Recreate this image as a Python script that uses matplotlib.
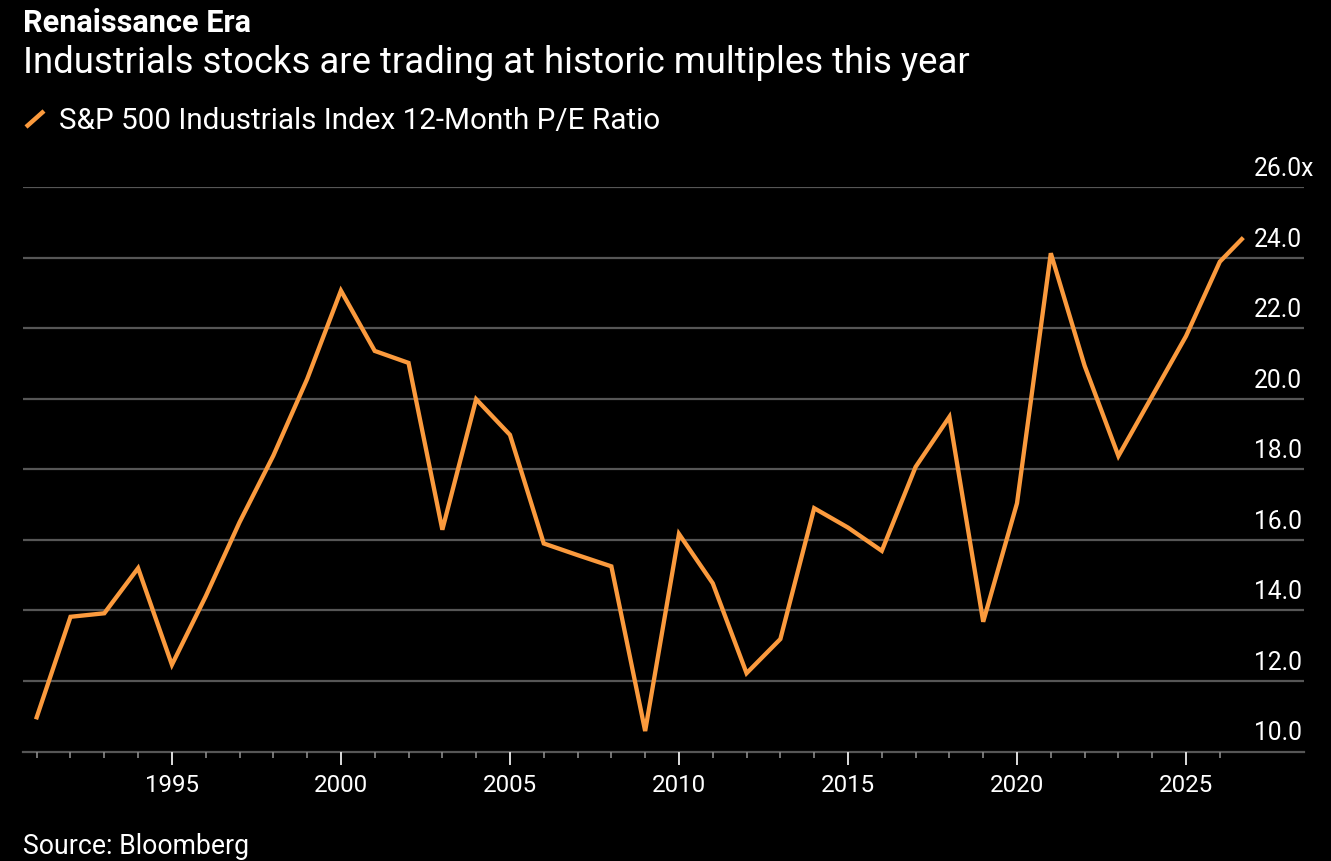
import matplotlib
matplotlib.use("Agg")
import matplotlib.pyplot as plt
from matplotlib.transforms import blended_transform_factory
from matplotlib.lines import Line2D

# ---------------- data ----------------
years = [1991, 1992, 1993, 1994, 1995, 1996, 1997, 1998, 1999, 2000,
         2001, 2002, 2003, 2004, 2005, 2006, 2007, 2008, 2009, 2010,
         2011, 2012, 2013, 2014, 2015, 2016, 2017, 2018, 2019, 2020,
         2021, 2022, 2023, 2024, 2025, 2026, 2026.65]
pe_ratio = [10.97, 13.82, 13.92, 15.20, 12.46, 14.40, 16.50, 18.39, 20.56, 23.07,
            21.36, 21.02, 16.29, 19.99, 18.98, 15.90, 15.57, 15.25, 10.58, 16.17,
            14.77, 12.22, 13.19, 16.90, 16.35, 15.69, 18.07, 19.49, 13.68, 17.04,
            24.13, 20.94, 18.38, 20.08, 21.78, 23.89, 24.53]
y_ticks = [10, 12, 14, 16, 18, 20, 22, 24, 26]
y_tick_labels = ["10.0", "12.0", "14.0", "16.0", "18.0", "20.0", "22.0", "24.0", "26.0x"]
x_major = [1995, 2000, 2005, 2010, 2015, 2020, 2025]
x_major_labels = ["1995", "2000", "2005", "2010", "2015", "2020", "2025"]
x_minor = list(range(1991, 2027))

title = "Renaissance Era"
subtitle = "Industrials stocks are trading at historic multiples this year"
legend_label = "S&P 500 Industrials Index 12-Month P/E Ratio"
source = "Source: Bloomberg"

# ---------------- style ----------------
W, H = 1331, 862
DPI = 100
BG = "black"
ORANGE = "#fb9a3d"
GRID = "#565656"
TXT = "white"
FONT = ["Roboto", "Liberation Sans", "DejaVu Sans"]
plt.rcParams["font.family"] = FONT

fig = plt.figure(figsize=(W / DPI, H / DPI), dpi=DPI, facecolor=BG)

def fx(px):
    return px / W

def fy(py):
    return 1 - py / H

ax = fig.add_axes([fx(23), fy(752.5), fx(1304) - fx(23), fy(188.3) - fy(752.5)])
ax.set_facecolor(BG)
ax.set_xlim(1990.595, 2028.49)
ax.set_ylim(10, 26)

for s in ["top", "right", "left"]:
    ax.spines[s].set_visible(False)
ax.spines["bottom"].set_color(GRID)
ax.spines["bottom"].set_linewidth(1.6)
ax.spines["bottom"].set_zorder(1)

# gridlines (skip bottom, which is the axis line)
for v in y_ticks[1:]:
    ax.axhline(v, color=GRID, lw=1.6, zorder=1)

ax.set_yticks([])
ax.set_xticks(x_major)
ax.set_xticklabels([])
ax.set_xticks(x_minor, minor=True)
ax.tick_params(axis="x", which="major", length=9, width=1.4, color="#dddddd", direction="out")
ax.tick_params(axis="x", which="minor", length=4.5, width=1.2, color="#8a8a8a", direction="out")

ax.plot(years, pe_ratio, color=ORANGE, lw=3.1, solid_joinstyle="miter", zorder=3, clip_on=False)

renderer = fig.canvas.get_renderer()

def fit(t, target_w):
    for _ in range(4):
        bb = t.get_window_extent(renderer=renderer)
        if bb.width > 0:
            t.set_fontsize(t.get_fontsize() * target_w / bb.width)
    return t

# x tick labels
tx = blended_transform_factory(ax.transData, fig.transFigure)
xl_objs = []
for yr, lab in zip(x_major, x_major_labels):
    t = ax.text(yr, fy(792.3), lab, transform=tx, ha="center", va="baseline",
                color=TXT, fontsize=18)
    xl_objs.append(t)
fit(xl_objs[0], 54)
for t in xl_objs[1:]:
    t.set_fontsize(xl_objs[0].get_fontsize())

# y tick labels (left-aligned, above gridlines)
ty = blended_transform_factory(fig.transFigure, ax.transData)
yl_objs = []
px_per_unit = (752.5 - 188.3) / 16.0
for v, lab in zip(y_ticks, y_tick_labels):
    t = ax.text(fx(1254), v + 12.0 / px_per_unit, lab, transform=ty, ha="left",
                va="baseline", color=TXT, fontsize=18)
    yl_objs.append(t)
fit(yl_objs[0], 48)
for t in yl_objs[1:]:
    t.set_fontsize(yl_objs[0].get_fontsize())

# header texts
t_title = fig.text(fx(23), fy(31.7), title, color=TXT, fontsize=22, fontweight="bold",
                   ha="left", va="baseline")
fit(t_title, 229)
t_sub = fig.text(fx(23), fy(72.7), subtitle, color=TXT, fontsize=22,
                 ha="left", va="baseline")
fit(t_sub, 949)
t_leg = fig.text(fx(59), fy(129), legend_label, color=TXT, fontsize=20,
                 ha="left", va="baseline")
fit(t_leg, 601)
t_src = fig.text(fx(23), fy(854.3), source, color=TXT, fontsize=18,
                 ha="left", va="baseline")
fit(t_src, 227)

# legend icon: short diagonal orange stroke
fig.add_artist(Line2D([fx(26), fx(44)], [fy(128), fy(112)], transform=fig.transFigure,
                      color=ORANGE, lw=3.2, solid_capstyle="butt"))

fig.savefig("out.png", dpi=DPI, facecolor=BG)
